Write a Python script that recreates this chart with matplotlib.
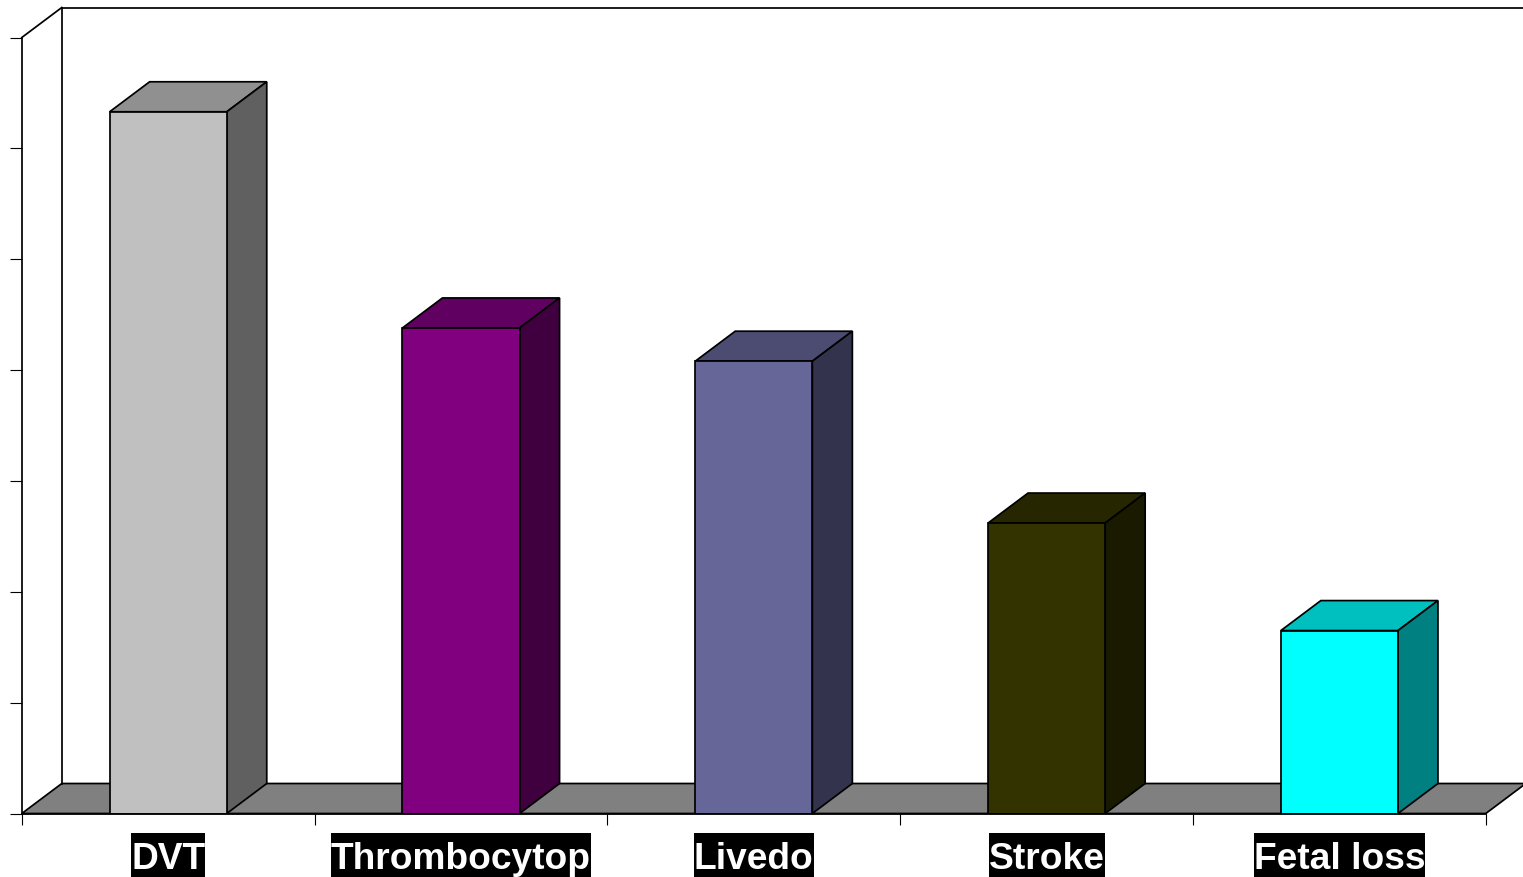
import matplotlib
matplotlib.use('Agg')
import matplotlib.pyplot as plt
from matplotlib.patches import Polygon, Rectangle

categories = ['DVT', 'Thrombocytop', 'Livedo', 'Stroke', 'Fetal loss']
values = [63.3, 43.8, 40.8, 26.2, 16.5]
front_colors = ['#C0C0C0', '#800080', '#666699', '#333300', '#00FFFF']
top_colors = ['#909090', '#600060', '#4C4C73', '#262600', '#00BFBF']
side_colors = ['#606060', '#400040', '#33334D', '#1A1A00', '#008080']

W, H = 1523, 878
x0, x1 = 21.8, 1485.8
y0, y1 = 814.5, 38.5
ymax = 70
bar_width = 0.4
lw = 1.25

plt.rcParams['font.family'] = ['Liberation Sans', 'DejaVu Sans']

fig = plt.figure(figsize=(W / 100, H / 100), dpi=100)
ax = fig.add_axes([x0 / W, 1 - y0 / H, (x1 - x0) / W, (y0 - y1) / H])
ax.set_xlim(0, len(categories))
ax.set_ylim(0, ymax)

# depth of the fake 3d box, 40px across and 30px up
dx = 40 / ((x1 - x0) / len(categories))
dy = 30 / ((y0 - y1) / ymax)


def face(points, color, z):
    ax.add_patch(Polygon(points, closed=True, facecolor=color, edgecolor='black',
                         linewidth=lw, clip_on=False, zorder=z))


n = len(categories)
# floor and walls
face([(0, 0), (n, 0), (n + dx, dy), (dx, dy)], '#808080', 1)
ax.plot([dx, dx], [dy, ymax + dy], color='black', lw=lw, clip_on=False, zorder=1)
ax.plot([0, dx], [ymax, ymax + dy], color='black', lw=lw, clip_on=False, zorder=1)
ax.plot([dx, n + dx], [ymax + dy, ymax + dy], color='black', lw=lw, clip_on=False, zorder=1)

for i, v in enumerate(values):
    left = i + 0.5 - bar_width / 2
    right = left + bar_width
    face([(left, v), (right, v), (right + dx, v + dy), (left + dx, v + dy)], top_colors[i], 3)
    face([(right, 0), (right + dx, dy), (right + dx, v + dy), (right, v)], side_colors[i], 3)
    ax.bar(i + 0.5, v, width=bar_width, color=front_colors[i], edgecolor='black',
           linewidth=lw, zorder=4)

ax.spines['top'].set_visible(False)
ax.spines['right'].set_visible(False)
ax.spines['left'].set_linewidth(lw)
ax.spines['bottom'].set_linewidth(lw)
ax.spines['left'].set_zorder(5)
ax.spines['bottom'].set_zorder(5)
ax.set_xticks(range(n + 1))
ax.set_yticks(range(0, ymax + 1, 10))
ax.tick_params(labelbottom=False, labelleft=False, width=0.8)
ax.tick_params(axis='x', length=8)
ax.tick_params(axis='y', length=8.6)

# white bold labels sitting on black boxes
renderer = fig.canvas.get_renderer()
for i, name in enumerate(categories):
    cx = ax.transData.transform((i + 0.5, 0))[0] / W
    t = fig.text(cx, 9 / H, name, ha='center', va='baseline', color='white',
                 fontsize=26.7, fontweight='bold', zorder=7)
    box = t.get_window_extent(renderer)
    fig.add_artist(Rectangle((box.x0 / W, 0), box.width / W, 44 / H, facecolor='black',
                             edgecolor='none', transform=fig.transFigure, zorder=6))

fig.savefig('out.png', dpi=100)
